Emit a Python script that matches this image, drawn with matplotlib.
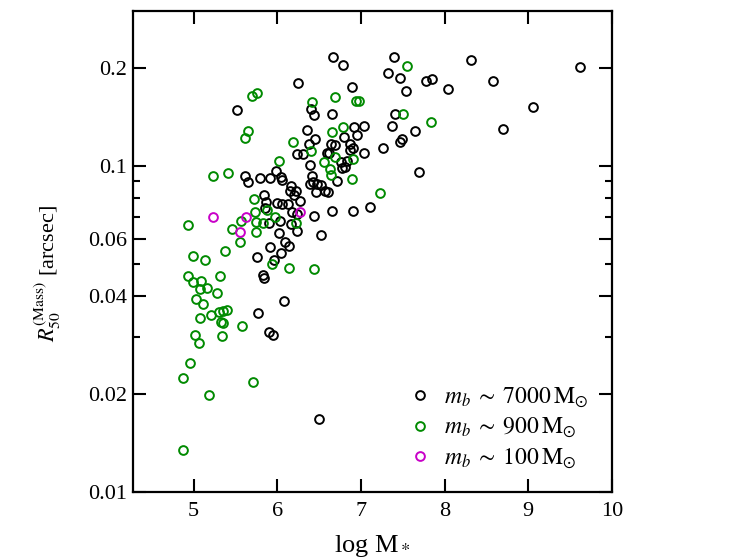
import numpy as np
import matplotlib
matplotlib.use("Agg")
import matplotlib.pyplot as plt
from matplotlib.ticker import FixedLocator, FixedFormatter, NullFormatter

plt.rcParams['font.family'] = ['Liberation Serif', 'DejaVu Serif']
plt.rcParams['mathtext.fontset'] = 'stix'

# m_b ~ 7000 Msun (black)
x_7000 = [6.663, 6.782, 6.246, 6.895, 5.514, 6.402, 6.438, 6.653, 6.360, 6.456,
          6.378, 6.647, 6.695, 6.623, 6.922, 7.042, 6.958, 6.797, 6.874, 6.902,
          6.866, 7.033, 6.234, 6.306, 6.593, 6.392, 6.761, 6.833, 6.773, 6.815,
          6.414, 6.432, 6.471, 6.396, 6.528, 6.464, 6.569, 6.611, 6.715, 5.610,
          5.651, 5.789, 5.917, 5.983, 6.041, 6.061, 6.163, 6.151, 6.223, 6.199,
          6.276, 5.846, 5.861, 5.858, 5.995, 6.059, 6.130, 6.175, 6.237, 5.907,
          6.029, 6.444, 6.659, 6.910, 7.110, 6.169, 6.240, 6.019, 6.519, 6.089,
          6.139, 5.909, 6.049, 5.758, 5.959, 5.828, 5.840, 6.087, 5.766, 5.902,
          5.945, 6.500, 7.392, 7.321, 7.473, 7.536, 7.778, 7.852, 8.047, 8.318,
          8.585, 9.614, 9.060, 8.705, 7.404, 7.371, 7.652, 7.473, 7.493, 7.267,
          7.694]
y_7000 = [0.217, 0.205, 0.180, 0.175, 0.149, 0.150, 0.144, 0.145, 0.129, 0.121,
          0.117, 0.117, 0.116, 0.110, 0.132, 0.133, 0.125, 0.123, 0.117, 0.114,
          0.112, 0.110, 0.109, 0.109, 0.110, 0.1007, 0.103, 0.104, 0.0986, 0.0996,
          0.0935, 0.0895, 0.0884, 0.0881, 0.0875, 0.0834, 0.0841, 0.0835, 0.0904, 0.0934,
          0.0895, 0.0919, 0.0922, 0.0969, 0.0929, 0.0906, 0.0868, 0.0838, 0.0838, 0.0814,
          0.0783, 0.0815, 0.0776, 0.0743, 0.0770, 0.0768, 0.0768, 0.0726, 0.0716, 0.0668,
          0.0679, 0.0703, 0.0728, 0.0730, 0.0749, 0.0664, 0.0634, 0.0625, 0.0614, 0.0587,
          0.0570, 0.0564, 0.0542, 0.0527, 0.0515, 0.0463, 0.0453, 0.0385, 0.0354, 0.0311,
          0.0303, 0.0168, 0.217, 0.193, 0.187, 0.170, 0.182, 0.185, 0.172, 0.211,
          0.182, 0.201, 0.152, 0.130, 0.145, 0.133, 0.128, 0.119, 0.121, 0.1136,
          0.0957]

# m_b ~ 900 Msun (green)
x_900 = [5.702, 5.754, 6.411, 6.687, 6.944, 6.974, 5.648, 5.618, 6.190, 6.781,
         6.653, 6.408, 6.691, 6.023, 6.554, 6.901, 6.629, 6.644, 6.896, 7.233,
         5.227, 5.411, 5.722, 5.732, 5.882, 5.974, 5.828, 5.746, 5.752, 5.571,
         5.463, 5.561, 6.220, 4.937, 5.376, 4.996, 5.134, 5.940, 6.142, 6.441,
         4.932, 4.989, 5.088, 5.163, 5.072, 5.319, 5.283, 5.024, 5.108, 5.080,
         5.208, 5.304, 5.352, 5.395, 5.331, 5.347, 5.574, 5.020, 5.060, 5.335,
         4.957, 4.877, 5.711, 5.179, 4.868, 7.556, 7.505, 7.843]
y_900 = [0.164, 0.168, 0.157, 0.163, 0.158, 0.158, 0.128, 0.122, 0.119, 0.132,
         0.127, 0.111, 0.107, 0.104, 0.1028, 0.1052, 0.0984, 0.0939, 0.0912, 0.0830,
         0.0934, 0.0954, 0.0791, 0.0722, 0.0733, 0.0701, 0.0672, 0.0675, 0.0630, 0.0678,
         0.0643, 0.0587, 0.0670, 0.0658, 0.0548, 0.0529, 0.0514, 0.0500, 0.0489, 0.0485,
         0.0461, 0.0443, 0.0444, 0.0424, 0.0419, 0.0461, 0.0408, 0.0391, 0.0379, 0.0342,
         0.0349, 0.0357, 0.0360, 0.0362, 0.0334, 0.0330, 0.0323, 0.0304, 0.0287, 0.0302,
         0.0249, 0.0224, 0.0218, 0.0199, 0.0135, 0.203, 0.145, 0.137]

# m_b ~ 100 Msun (magenta)
x_100 = [5.236, 5.628, 5.559, 6.268]
y_100 = [0.0700, 0.0699, 0.0627, 0.0722]

ytick_vals = [0.01, 0.02, 0.04, 0.06, 0.1, 0.2]
ytick_labels = ['0.01', '0.02', '0.04', '0.06', '0.1', '0.2']
yminor_vals = [0.03, 0.05, 0.07, 0.08, 0.09]
xtick_vals = [5, 6, 7, 8, 9, 10]

fig = plt.figure(figsize=(7.47, 5.6), dpi=100)
ax = fig.add_axes([0.1785, 0.1209, 0.6405, 0.8601])

ms = 6.3
mew = 1.4
ax.plot(x_7000, y_7000, 'o', mfc='none', mec='black', ms=ms, mew=mew, ls='none',
        label=r'$m_b \;\sim\; 7000\,{\rm M}_{\odot}$')
ax.plot(x_900, y_900, 'o', mfc='none', mec='#008a00', ms=ms, mew=mew, ls='none',
        label=r'$m_b \;\sim\; 900\,{\rm M}_{\odot}$')
ax.plot(x_100, y_100, 'o', mfc='none', mec='#c800c8', ms=ms, mew=mew, ls='none',
        label=r'$m_b \;\sim\; 100\,{\rm M}_{\odot}$')

ax.set_yscale('log')
ax.set_xlim(4.28, 10.0)
ax.set_ylim(0.01, 0.3)

ax.yaxis.set_major_locator(FixedLocator(ytick_vals))
ax.yaxis.set_major_formatter(FixedFormatter(ytick_labels))
ax.yaxis.set_minor_locator(FixedLocator(yminor_vals))
ax.yaxis.set_minor_formatter(NullFormatter())
ax.xaxis.set_major_locator(FixedLocator(xtick_vals))
ax.xaxis.set_minor_locator(FixedLocator([]))

ax.tick_params(which='both', direction='in', top=True, right=True, width=1.5,
               labelsize=16)
ax.tick_params(which='major', length=9.5)
ax.tick_params(which='minor', length=5)
ax.tick_params(axis='x', pad=7)
ax.tick_params(axis='y', pad=4.5)
for s in ax.spines.values():
    s.set_linewidth(1.6)

ax.set_xlabel(r'log M$_*$', fontsize=19)
ax.xaxis.set_label_coords(0.5, -0.085)
ax.set_ylabel(r'$R_{50}^{\rm (Mass)}$ [arcsec]', fontsize=16)
ax.yaxis.set_label_coords(-0.148, 0.454)

leg = ax.legend(loc='lower right', bbox_to_anchor=(0.985, 0.01), frameon=False,
                fontsize=17, handlelength=0.8, handletextpad=0.6,
                labelspacing=0.27, borderaxespad=0.3)

fig.savefig('out.png', dpi=100)
